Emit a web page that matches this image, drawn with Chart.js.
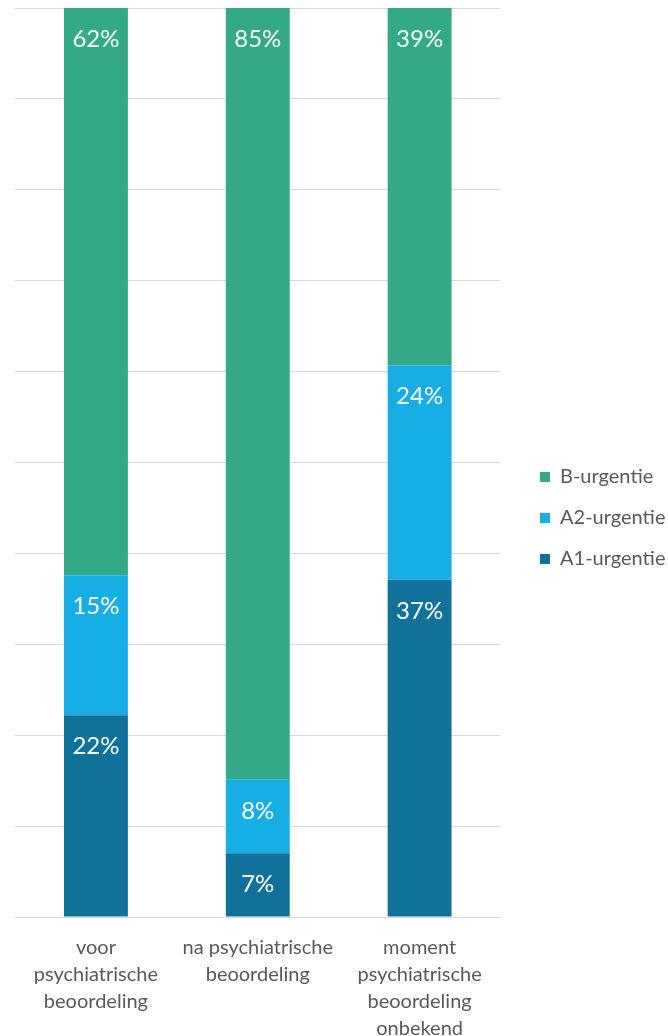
<!DOCTYPE html>
<html>
<head>
<meta charset="utf-8">
<script src="https://cdn.jsdelivr.net/npm/chart.js@4/dist/chart.umd.min.js"></script>
<style>
  html, body { margin: 0; padding: 0; background: #ffffff; }
  #wrap { width: 668px; height: 1036px; position: relative; }
</style>
</head>
<body>
<div id="wrap"><canvas id="c" width="668" height="1036"></canvas></div>
<script>
const categories = [
  ["voor", "psychiatrische", "beoordeling"],
  ["na psychiatrische", "beoordeling"],
  ["moment", "psychiatrische", "beoordeling", "onbekend"]
];
const seriesNames = ["A1-urgentie", "A2-urgentie", "B-urgentie"];
const a1Values = [22.2, 7.0, 37.1];
const a2Values = [15.4, 8.1, 23.6];
const bValues  = [62.4, 84.9, 39.3];
const seriesColors = ["#10729B", "#17AEE6", "#33A987"];

const FONT = "Lato, 'Open Sans', sans-serif";

const valueLabels = {
  id: 'valueLabels',
  afterDatasetsDraw(chart) {
    const ctx = chart.ctx;
    ctx.save();
    ctx.fillStyle = '#ffffff';
    ctx.font = '24px ' + FONT;
    ctx.textAlign = 'center';
    ctx.textBaseline = 'alphabetic';
    chart.data.datasets.forEach((ds, di) => {
      const meta = chart.getDatasetMeta(di);
      meta.data.forEach((el, i) => {
        const v = ds.data[i];
        const top = Math.min(el.y, el.base);
        ctx.fillText(Math.round(v) + '%', el.x, top + 39);
      });
    });
    ctx.restore();
  }
};

const shiftLegend = {
  id: 'shiftLegend',
  afterLayout(chart) {
    const lg = chart.legend;
    if (lg) {
      const dx = 540 - 21 - lg.left;
      lg.left += dx;
      lg.right += dx;
      lg.top -= 4;
      lg.bottom -= 4;
    }
  }
};

new Chart(document.getElementById('c'), {
  type: 'bar',
  data: {
    labels: categories,
    datasets: [
      { label: seriesNames[0], data: a1Values, backgroundColor: seriesColors[0] },
      { label: seriesNames[1], data: a2Values, backgroundColor: seriesColors[1] },
      { label: seriesNames[2], data: bValues,  backgroundColor: seriesColors[2] }
    ]
  },
  options: {
    responsive: false,
    animation: false,
    devicePixelRatio: 1,
    layout: { padding: { left: 15, top: 8, right: 11, bottom: 0 } },
    datasets: { bar: { barPercentage: 0.395, categoryPercentage: 1.0, borderWidth: 0 } },
    scales: {
      x: {
        stacked: true,
        grid: { display: false, drawTicks: false },
        border: { display: true, color: '#d9d9d9', width: 1 },
        ticks: {
          color: '#595959',
          font: { family: FONT, size: 20, lineHeight: 1.35 },
          padding: 17,
          maxRotation: 0,
          autoSkip: false
        },
        afterFit(scale) { scale.height = 119; }
      },
      y: {
        stacked: true,
        min: 0,
        max: 100,
        ticks: { display: false, stepSize: 10 },
        grid: { color: '#d9d9d9', drawTicks: false, lineWidth: 1 },
        border: { display: false }
      }
    },
    plugins: {
      legend: {
        position: 'right',
        reverse: true,
        labels: {
          boxWidth: 10,
          boxHeight: 10,
          padding: 21,
          color: '#595959',
          font: { family: FONT, size: 20 }
        }
      },
      tooltip: { enabled: false }
    }
  },
  plugins: [valueLabels, shiftLegend]
});
</script>
</body>
</html>
